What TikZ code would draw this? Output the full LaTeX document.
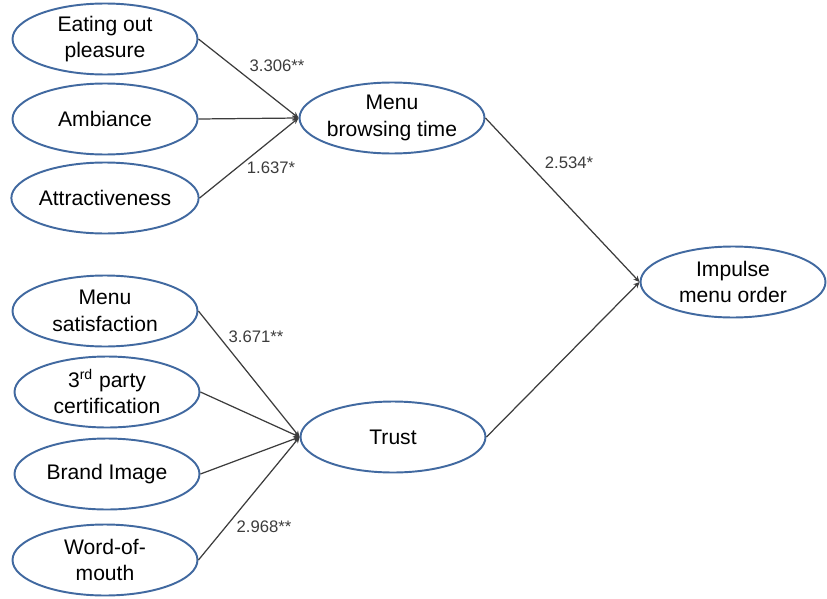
\documentclass[tikz,border=0pt]{standalone}
\usepackage{fontspec}
\setmainfont{Liberation Sans}
\usetikzlibrary{shapes.geometric,arrows.meta}

\definecolor{ovalblue}{RGB}{65,105,160}
\definecolor{linegray}{RGB}{60,60,60}

\begin{document}
\begin{tikzpicture}[x=0.02cm, y=-0.02cm,
    construct/.style={ellipse, draw=ovalblue, line width=1.1pt, fill=white,
        minimum width=3.7cm, minimum height=1.42cm, inner sep=0pt,
        align=center, font=\fontsize{12}{15}\selectfont},
    path/.style={draw=linegray, line width=0.7pt, -{Stealth[length=3.5pt, width=3.2pt]}},
    coef/.style={font=\fontsize{9.5}{11}\selectfont, text=linegray, inner sep=1pt}]
                        \useasboundingbox (0,0) rectangle (827,598);

                        % antecedents of browsing time
                        \node[construct] (eat) at (105,39) {Eating out\\pleasure};
                        \node[construct] (amb) at (105,119) {Ambiance};
                        \node[construct] (att) at (105,198) {Attractiveness};

                        % antecedents of trust
                        \node[construct] (sat) at (105,311) {Menu\\satisfaction};
                        \node[construct] (cert) at (107,392) {3\textsuperscript{rd} party\\certification};
                        \node[construct] (brand) at (107,474) {Brand Image};
                        \node[construct] (wom) at (105,560) {Word-of-\\mouth};

                        % mediators and outcome
                        \node[construct] (browse) at (392,118) {Menu\\browsing time};
                        \node[construct] (trust) at (393,437) {Trust};
                        \node[construct] (order) at (733,282) {Impulse\\menu order};

                        \draw[path] (eat.east) -- (browse.west);
                        \draw[path] (amb.east) -- (browse.west);
                        \draw[path] (att.east) -- (browse.west);

                        \draw[path] (sat.east) -- (trust.west);
                        \draw[path] (cert.east) -- (trust.west);
                        \draw[path] (brand.east) -- (trust.west);
                        \draw[path] (wom.east) -- (trust.west);

                        \draw[path] (browse.east) -- (order.west);
                        \draw[path] (trust.east) -- (order.west);

                        \node[coef] (c1) at (277,66) {3.306**};
                        \node[coef] (c2) at (271,168) {1.637*};
                        \node[coef] (c3) at (569,163) {2.534*};
                        \node[coef] (c4) at (256,337) {3.671**};
                        \node[coef] (c5) at (264,527) {2.968**};
                    \end{tikzpicture}
\end{document}
